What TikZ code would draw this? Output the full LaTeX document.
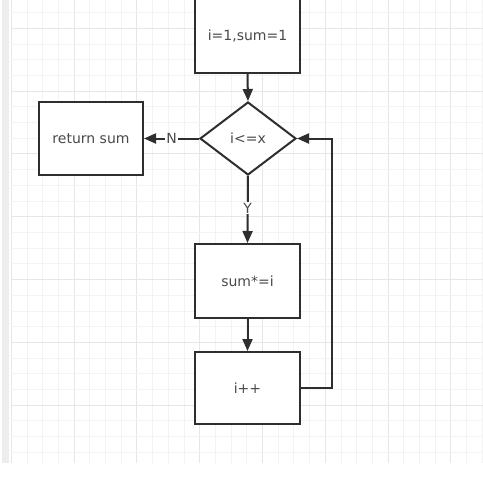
\documentclass[tikz,border=0pt]{standalone}
\usepackage{fontspec}
\setmainfont{DejaVu Sans}
\usetikzlibrary{shapes.geometric,arrows.meta}
\definecolor{gridminor}{HTML}{F3F3F3}
\definecolor{gridmajor}{HTML}{E6E6E6}
\definecolor{strip}{HTML}{EDEDED}
\definecolor{linec}{HTML}{2E2E2E}
\definecolor{textc}{HTML}{4A4A4A}
\tikzset{
  base/.style={draw=linec, line width=2pt, fill=white, text=textc,
    font=\fontsize{14}{16}\selectfont, inner sep=0pt},
  stepbox/.style={base, rectangle, minimum width=105pt, minimum height=74pt},
  decbox/.style={base, diamond, minimum width=96pt, minimum height=73pt},
  conn/.style={draw=linec, line width=2pt, -{Triangle[length=12pt,width=10pt]}},
  lbl/.style={fill=white, text=textc, font=\fontsize{14}{16}\selectfont, inner sep=1pt}
}
\begin{document}
\begin{tikzpicture}[x=1pt,y=-1pt]
\useasboundingbox (0,0) rectangle (483,479);
% background
\fill[white] (0,0) rectangle (483,479);
\fill[strip] (2,0) rectangle (9,463);
% grid
\foreach \k in {0,...,30}{
  \pgfmathsetmacro{\xx}{11.2+15.7*\k}
  \pgfmathtruncatemacro{\m}{mod(\k,4)}
  \ifnum\m=0 \draw[gridmajor,line width=0.9pt] (\xx,0) -- (\xx,463);
  \else \draw[gridminor,line width=0.8pt] (\xx,0) -- (\xx,463); \fi
}
\foreach \k in {0,...,28}{
  \pgfmathsetmacro{\yy}{12.6+15.7*\k}
  \pgfmathtruncatemacro{\m}{mod(\k+3,4)}
  \ifnum\m=0 \draw[gridmajor,line width=0.9pt] (11,\yy) -- (483,\yy);
  \else \draw[gridminor,line width=0.8pt] (11,\yy) -- (483,\yy); \fi
}
% nodes
\node[stepbox] (init) at (247.5,36) {i=1,sum=1};
\node[decbox] (dec) at (248,138.5) {i<=x};
\node[stepbox, minimum width=104pt, minimum height=73pt] (ret) at (91,138.5) {return sum};
\node[stepbox] (sum) at (247.5,281) {sum*=i};
\node[stepbox, minimum height=72pt] (inc) at (247.5,388) {i++};
\coordinate (lp) at (332,138.5);
% connectors
\draw[conn] (init.south) -- (dec.north);
\draw[conn] (dec.west) -- node[lbl]{N} (ret.east);
\draw[conn] (dec.south) -- node[lbl, pos=0.48]{Y} (sum.north);
\draw[conn] (sum.south) -- (inc.north);
\draw[conn] (inc.east) -| (lp) -- (dec.east);
\end{tikzpicture}
\end{document}
